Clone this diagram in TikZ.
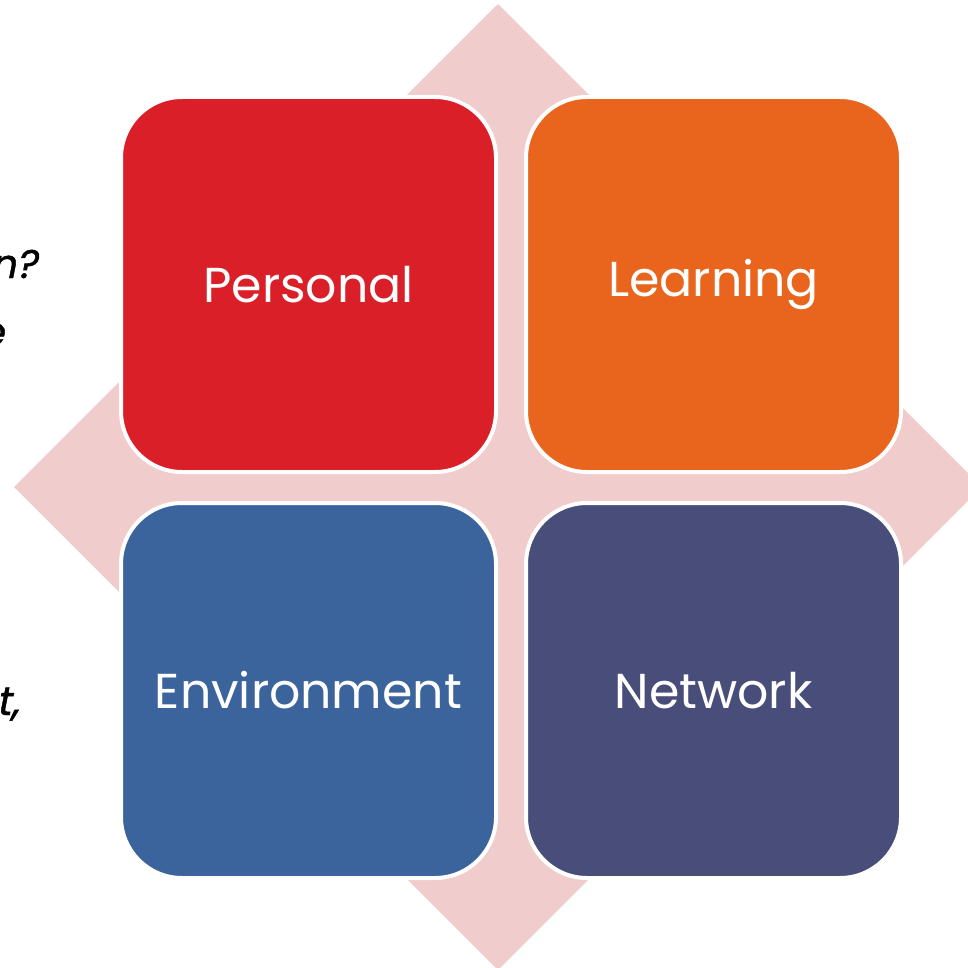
\documentclass[tikz,border=0pt]{standalone}
\usepackage{fontspec}
\setmainfont{Poppins}
\newfontfamily\sidefont[FakeSlant=0.2, FakeBold=1.2]{Poppins}
\definecolor{cpink}{RGB}{240,204,204}
\definecolor{cred}{RGB}{218,31,40}
\definecolor{corange}{RGB}{233,101,30}
\definecolor{cblue}{RGB}{59,100,156}
\definecolor{cnavy}{RGB}{72,77,121}
\tikzset{
  tile/.style={draw=white, line width=4pt, rounded corners=61pt,
    minimum width=375pt, minimum height=375pt, inner sep=0pt,
    text=white, font=\fontsize{49}{56}\selectfont},
  side/.style={inner sep=0pt, font=\sidefont\fontsize{40}{44}\selectfont, text=black}
}
\begin{document}
\begin{tikzpicture}[x=1pt,y=-1pt]
\useasboundingbox (0,0) rectangle (967,968);
\fill[cpink] (498,4) -- (982,487) -- (498,970) -- (14,487) -- cycle;
\node[tile, fill=cred] (p) at (308.5,284.5) {Personal};
\node[tile, fill=corange] (l) at (713.5,284.5) {Learning};
\node[tile, fill=cblue] (e) at (308.5,690.5) {Environment};
\node[tile, fill=cnavy] (n) at (713.5,690.5) {Network};
\node[side, anchor=base east] (t1) at (37,278) {n?};
\node[side, anchor=base east] (t2) at (4,346) {e};
\node[side, anchor=base east] (t3) at (19,715) {t,};
\end{tikzpicture}
\end{document}
